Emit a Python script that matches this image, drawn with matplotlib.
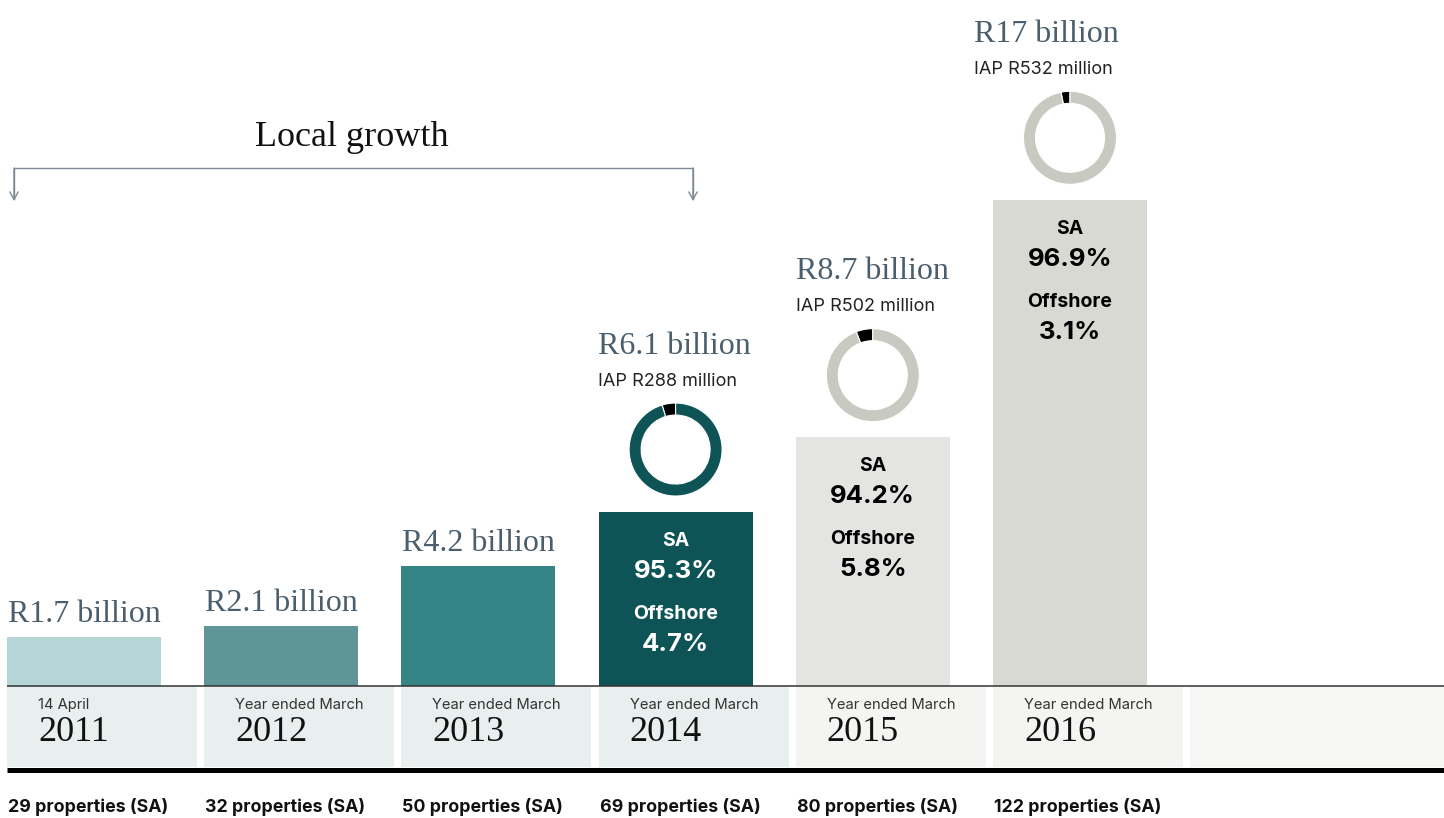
import matplotlib
matplotlib.use("Agg")
import matplotlib.pyplot as plt
from matplotlib.patches import Rectangle

# ---------------- data ----------------
years = ["2011", "2012", "2013", "2014", "2015", "2016"]
year_notes = ["14 April", "Year ended March", "Year ended March",
              "Year ended March", "Year ended March", "Year ended March"]
values_bn = [1.7, 2.1, 4.2, 6.1, 8.7, 17.0]
value_labels = ["R1.7 billion", "R2.1 billion", "R4.2 billion",
                "R6.1 billion", "R8.7 billion", "R17 billion"]
properties = ["29 properties (SA)", "32 properties (SA)", "50 properties (SA)",
              "69 properties (SA)", "80 properties (SA)", "122 properties (SA)"]
sa_share = [None, None, None, 95.3, 94.2, 96.9]
offshore_share = [None, None, None, 4.7, 5.8, 3.1]
iap_labels = [None, None, None, "IAP R288 million", "IAP R502 million", "IAP R532 million"]
bracket_title = "Local growth"

# ---------------- style ----------------
bar_colors = ["#b6d5d7", "#609598", "#358587", "#0e5457", "#e4e4e2", "#d9d9d4"]
cell_colors = ["#e8efee", "#e8efee", "#e8efee", "#e8efee", "#f4f4f2", "#f4f4f2"]
donut_colors = [None, None, None, "#0e5457", "#c8c9c1", "#c8c9c1"]
inner_text_colors = [None, None, None, "white", "black", "black"]
label_dx_px = [1, 1, 1, -1, 0, -19]

SERIF = ["Liberation Serif", "DejaVu Serif"]
SANS = ["Inter", "DejaVu Sans"]
LABEL_COL = "#4b5e6d"

W, H = 1444, 818
SX = 197.2          # px per category
SY = 28.6           # px per billion
X0 = 84             # px of first bar centre
BASE = 686          # px of baseline
BAR_W_PX = 154
CELL_W_PX = 190

fig = plt.figure(figsize=(W / 100, H / 100), dpi=100)
ax = fig.add_axes([0, 0, 1, 1])
ax.set_xlim(-X0 / SX, (W - X0) / SX)
ax.set_ylim(-(H - BASE) / SY, BASE / SY)
ax.axis("off")

def px_x(dx):  # px -> x units
    return dx / SX

def px_y(dy):  # px -> y units
    return dy / SY

xs = list(range(len(years)))

# bars
ax.bar(xs, values_bn, width=BAR_W_PX / SX, color=bar_colors, align="center", zorder=2)

# bottom cells
cell_bottom = -px_y(767 - BASE)
for i in xs:
    left = i - px_x(BAR_W_PX / 2)
    ax.add_patch(Rectangle((left, cell_bottom), px_x(CELL_W_PX), -cell_bottom,
                           facecolor=cell_colors[i], edgecolor="none", zorder=1))
extra_left = len(xs) - px_x(BAR_W_PX / 2)
ax.add_patch(Rectangle((extra_left, cell_bottom), ax.get_xlim()[1] - extra_left, -cell_bottom,
                       facecolor="#f6f6f4", edgecolor="none", zorder=1))

x_start = -px_x(BAR_W_PX / 2)
x_end = ax.get_xlim()[1]
ax.plot([x_start, x_end], [0, 0], color="#333333", lw=1.1, zorder=3, solid_capstyle="butt")
ax.plot([x_start, x_end], [-px_y(769.5 - BASE)] * 2, color="black", lw=3.6, zorder=3,
        solid_capstyle="butt")

for i in xs:
    left = i - px_x(BAR_W_PX / 2)
    tx = left + px_x(31)
    ax.text(tx, -px_y(709 - BASE), year_notes[i], family=SANS, fontsize=10.6,
            color="#333333", ha="left", va="baseline", zorder=4)
    ax.text(tx, -px_y(741 - BASE), years[i], family=SERIF, fontsize=26,
            color="#111111", ha="left", va="baseline", zorder=4)
    ax.text(left + px_x(1), -px_y(812 - BASE), properties[i], family=SANS, fontsize=12.8,
            fontweight="bold", color="#111111", ha="left", va="baseline")

# labels, donuts, inner text
for i in xs:
    v = values_bn[i]
    left = i - px_x(BAR_W_PX / 2)
    lx = left + px_x(label_dx_px[i])
    has_donut = sa_share[i] is not None
    above = 158 if has_donut else 15
    ax.text(lx, v + px_y(above), value_labels[i], family=SERIF, fontsize=23,
            color=LABEL_COL, ha="left", va="baseline")
    if not has_donut:
        continue
    ax.text(lx, v + px_y(126), iap_labels[i], family=SANS, fontsize=13,
            color="#222222", ha="left", va="baseline")
    col = inner_text_colors[i]
    ax.text(i, v - px_y(34), "SA", family=SANS, fontsize=14, fontweight="bold",
            color=col, ha="center", va="baseline")
    ax.text(i, v - px_y(66), f"{sa_share[i]:.1f}%", family=SANS, fontsize=18.5,
            fontweight="bold", color=col, ha="center", va="baseline")
    ax.text(i, v - px_y(107), "Offshore", family=SANS, fontsize=14, fontweight="bold",
            color=col, ha="center", va="baseline")
    ax.text(i, v - px_y(139), f"{offshore_share[i]:.1f}%", family=SANS, fontsize=18.5,
            fontweight="bold", color=col, ha="center", va="baseline")

    # donut
    cx, cy = ax.transData.transform((i, v + px_y(62)))
    r = 46.5
    fx0, fy0 = fig.transFigure.inverted().transform((cx - r, cy - r))
    fx1, fy1 = fig.transFigure.inverted().transform((cx + r, cy + r))
    dax = fig.add_axes([fx0, fy0, fx1 - fx0, fy1 - fy0])
    dax.pie([offshore_share[i], sa_share[i]], colors=["black", donut_colors[i]],
            startangle=90, counterclock=True, radius=1,
            wedgeprops=dict(width=12 / r, edgecolor="white", linewidth=0.8))
    dax.set_xlim(-1, 1)
    dax.set_ylim(-1, 1)
    dax.set_aspect("equal")
    dax.axis("off")

# bracket "Local growth"
bx0 = -px_x(84 - 14)
bx1 = 3 + px_x(693 - (X0 + 3 * SX))
by_top = px_y(BASE - 168)
by_tip = px_y(BASE - 201)
bcol = "#7f8993"
ax.plot([bx0, bx0, bx1, bx1], [by_tip + px_y(2), by_top, by_top, by_tip + px_y(2)],
        color=bcol, lw=1.0, solid_joinstyle="miter")
for bx in (bx0, bx1):
    ax.annotate("", xy=(bx, by_tip), xytext=(bx, by_top),
                arrowprops=dict(arrowstyle="->,head_length=0.55,head_width=0.3",
                                color=bcol, lw=1.0, shrinkA=0, shrinkB=0))
ax.text((bx0 + bx1) / 2 - px_x(2), px_y(BASE - 146), bracket_title, family=SERIF,
        fontsize=26, color="#111111", ha="center", va="baseline")

fig.savefig("out.png", dpi=100, facecolor="white")
